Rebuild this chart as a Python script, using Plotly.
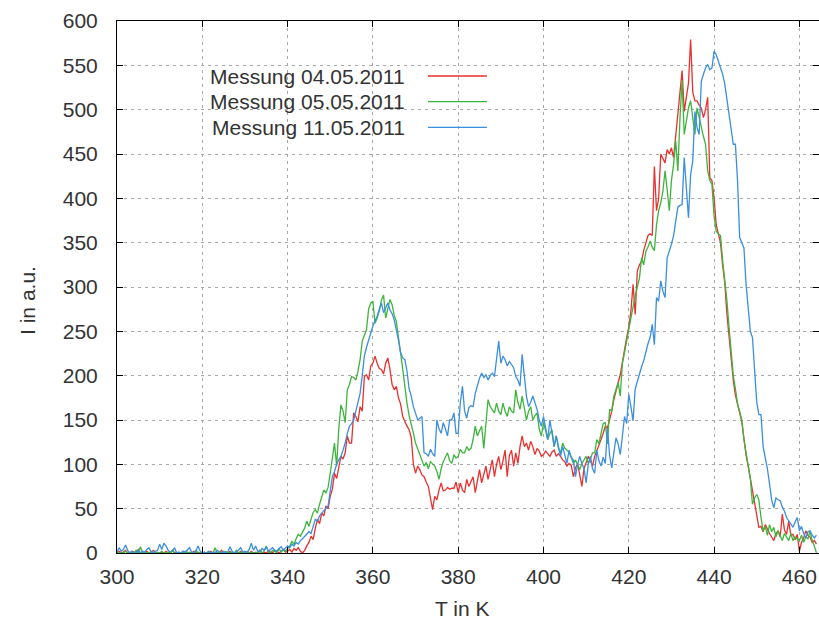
import plotly.graph_objects as go

# Temperature axis: samples every 0.5 K from 300 K to 464 K
T_START = 300.0
T_STEP = 0.5

# Intensity (a.u.) measured on 04.05.2011
messung_0405 = [
    0, 2, 0, 1, 3, 0, 0, 2, 1, 0, 4, 0, 1, 0, 2, 0, 0, 3, 1, 0,                      # 300
    0, 1, 0, 2, 0, 0, 3, 0, 1, 0, 0, 2, 0, 1, 0, 0, 2, 0, 1, 0,                      # 310
    0, 1, 0, 0, 2, 0, 1, 0, 0, 3, 0, 1, 0, 2, 0, 0, 1, 0, 2, 0,                      # 320
    1, 0, 0, 2, 0, 1, 0, 3, 0, 1, 0, 2, 1, 0, 3, 1, 0, 2, 4, 1,                      # 330
    2, 4, 1, 5, 3, 6, 2, 0, 3, 8, 12, 19, 15, 28, 38, 33, 45, 42, 53, 50,            # 340
    64, 72, 90, 84, 98, 109, 106, 113, 132, 124, 124, 158, 154, 148, 165, 160, 199, 201, 195, 211,  # 350
    214, 222, 214, 208, 207, 202, 214, 220, 207, 190, 184, 188, 175, 168, 154, 148, 143, 139, 130, 100,  # 360
    90, 98, 94, 88, 86, 80, 75, 62, 49, 64, 60, 71, 79, 70, 71, 74, 72, 73, 73, 80,  # 370
    68, 79, 71, 68, 83, 75, 80, 86, 68, 83, 94, 79, 90, 98, 83, 95, 105, 86, 100, 109,  # 380
    94, 104, 116, 86, 110, 116, 98, 113, 101, 120, 132, 120, 124, 116, 126, 120, 111, 118, 115, 109,  # 390
    111, 115, 112, 109, 114, 116, 109, 112, 109, 105, 103, 98, 101, 99, 86, 96, 101, 88, 75, 95,  # 400
    101, 109, 104, 98, 109, 115, 120, 128, 135, 143, 141, 150, 160, 173, 184, 192, 201, 218, 229, 243,  # 410
    255, 273, 303, 269, 318, 325, 329, 341, 350, 358, 360, 358, 436, 386, 400, 450, 445, 440, 455, 450,  # 420
    457, 446, 470, 495, 525, 544, 498, 514, 530, 579, 520, 510, 510, 505, 502, 491, 500, 514, 423, 420,  # 430
    400, 370, 360, 350, 325, 305, 270, 245, 218, 195, 178, 166, 158, 148, 125, 110, 98, 85, 70, 55,  # 440
    42, 29, 30, 24, 32, 26, 22, 18, 14, 22, 25, 18, 44, 26, 21, 36, 20, 21, 15, 21,  # 450
    2, 12, 17, 25, 20, 18, 12, 14, 10,                                               # 460
]

# Intensity (a.u.) measured on 05.05.2011
messung_0505 = [
    0, 0, 1, 0, 2, 0, 0, 1, 0, 3, 0, 7, 0, 1, 0, 0, 2, 0, 0, 1,
    0, 2, 0, 0, 1, 0, 3, 0, 0, 1, 0, 0, 2, 0, 1, 0, 0, 3, 0, 0,
    1, 0, 0, 2, 0, 0, 6, 0, 1, 0, 0, 2, 0, 1, 0, 0, 3, 0, 1, 0,
    0, 2, 0, 1, 0, 0, 1, 3, 0, 2, 8, 1, 0, 3, 2, 0, 5, 1, 4, 2,
    5, 8, 13, 10, 16, 21, 19, 23, 28, 36, 30, 38, 46, 49, 45, 55, 62, 71, 68, 74,
    90, 110, 124, 98, 140, 167, 160, 147, 184, 190, 199, 198, 195, 205, 218, 239, 245, 252, 275, 282,
    284, 259, 265, 273, 285, 291, 265, 275, 286, 280, 268, 261, 240, 225, 207, 185, 169, 155, 143, 135,
    124, 118, 112, 106, 98, 102, 95, 103, 100, 98, 92, 83, 95, 103, 108, 113, 104, 101, 111, 107,
    109, 117, 113, 113, 120, 116, 118, 128, 143, 132, 138, 143, 118, 145, 173, 165, 162, 158, 169, 160,
    156, 169, 160, 154, 165, 160, 158, 184, 170, 162, 177, 165, 150, 160, 165, 150, 155, 158, 140, 132,
    147, 138, 128, 135, 139, 120, 132, 118, 113, 124, 118, 116, 113, 108, 101, 105, 100, 94, 101, 105,
    109, 101, 106, 113, 113, 128, 123, 135, 146, 147, 123, 162, 160, 177, 186, 192, 177, 214, 226, 241,
    252, 265, 280, 290, 300, 310, 333, 325, 340, 345, 352, 345, 341, 370, 386, 395, 408, 431, 410, 386,
    420, 438, 465, 431, 490, 533, 472, 490, 502, 510, 490, 472, 502, 490, 480, 470, 461, 431, 420, 416,
    380, 363, 360, 358, 330, 310, 285, 255, 230, 200, 185, 168, 160, 150, 128, 112, 100, 84, 55, 62,
    66, 60, 40, 25, 30, 20, 32, 24, 29, 18, 25, 20, 14, 22, 18, 14, 22, 14, 18, 16,
    14, 20, 12, 18, 16, 25, 14, 8, 0,
]

# Intensity (a.u.) measured on 11.05.2011
messung_1105 = [
    1, 6, 2, 4, 9, 3, 0, 2, 0, 1, 3, 0, 2, 1, 4, 6, 1, 0, 2, 3,
    10, 4, 11, 8, 3, 1, 2, 6, 0, 1, 0, 2, 1, 3, 6, 1, 0, 2, 8, 2,
    0, 1, 0, 2, 0, 1, 0, 3, 1, 0, 2, 0, 1, 7, 2, 0, 1, 3, 6, 1,
    2, 0, 4, 11, 3, 8, 2, 1, 5, 3, 7, 2, 4, 6, 3, 2, 5, 7, 3, 6,
    8, 6, 10, 8, 12, 10, 14, 16, 19, 22, 24, 22, 30, 38, 36, 42, 45, 48, 50, 53,
    70, 86, 92, 100, 105, 109, 116, 124, 135, 143, 146, 150, 160, 172, 180, 200, 222, 232, 241, 250,
    256, 262, 267, 275, 282, 271, 276, 282, 274, 270, 263, 252, 240, 226, 220, 218, 205, 185, 177, 165,
    158, 150, 152, 154, 113, 112, 109, 117, 112, 109, 150, 140, 135, 147, 140, 132, 150, 150, 158, 135,
    135, 170, 188, 160, 152, 164, 166, 165, 180, 190, 197, 203, 198, 201, 195, 200, 203, 199, 220, 239,
    214, 222, 218, 211, 216, 213, 209, 199, 195, 188, 224, 200, 177, 165, 170, 177, 170, 162, 150, 143,
    154, 140, 128, 150, 135, 120, 132, 118, 109, 120, 110, 101, 116, 108, 105, 86, 100, 109, 101, 95,
    79, 100, 109, 95, 90, 116, 104, 98, 108, 101, 141, 110, 96, 116, 130, 123, 111, 132, 154, 146,
    179, 165, 149, 185, 194, 201, 210, 217, 228, 236, 243, 258, 235, 288, 284, 307, 295, 288, 333, 340,
    348, 358, 375, 390, 392, 393, 446, 410, 378, 427, 442, 498, 480, 472, 532, 540, 547, 551, 545, 547,
    566, 562, 555, 547, 540, 529, 510, 495, 478, 461, 461, 420, 356, 350, 344, 303, 275, 250, 243, 205,
    170, 156, 156, 120, 108, 95, 78, 60, 51, 62, 60, 59, 52, 47, 40, 36, 32, 29, 35, 40,
    25, 30, 22, 17, 24, 25, 20, 17, 20,
]

series_names = ["Messung 04.05.2011", "Messung 05.05.2011", "Messung 11.05.2011"]
series_values = [messung_0405, messung_0505, messung_1105]
series_colors = ["#e8312f", "#3db53d", "#3b8fe0"]

x_ticks = [300, 320, 340, 360, 380, 400, 420, 440, 460]
y_ticks = [0, 50, 100, 150, 200, 250, 300, 350, 400, 450, 500, 550, 600]

FONT = "Liberation Sans, Arial, sans-serif"
TEXT_COLOR = "#333333"
FONT_SIZE = 21

fig = go.Figure()
for name, vals, col in zip(series_names, series_values, series_colors):
    temps = [T_START + i * T_STEP for i in range(len(vals))]
    fig.add_trace(go.Scatter(
        x=temps, y=vals, mode="lines", name=name,
        line=dict(color=col, width=1.3), showlegend=False,
    ))

# Key drawn gnuplot-style: right-aligned text followed by the line sample
key_rows = [0.8966, 0.8483, 0.8002]
for name, col, yk in zip(series_names, series_colors, key_rows):
    fig.add_annotation(
        x=0.413, y=yk, xref="paper", yref="paper", text=name,
        showarrow=False, xanchor="right", yanchor="middle",
        font=dict(family=FONT, size=FONT_SIZE, color=TEXT_COLOR),
    )
    fig.add_shape(
        type="line", xref="paper", yref="paper",
        x0=0.443, x1=0.527, y0=yk, y1=yk,
        line=dict(color=col, width=1.3),
    )

# Axis titles
fig.add_annotation(
    x=0.491, y=-0.1034, xref="paper", yref="paper", text="T in K",
    showarrow=False, xanchor="center", yanchor="middle",
    font=dict(family=FONT, size=FONT_SIZE, color=TEXT_COLOR),
)
fig.add_annotation(
    x=-0.1268, y=0.4756, xref="paper", yref="paper", text="I in a.u.",
    showarrow=False, xanchor="center", yanchor="middle", textangle=-90,
    font=dict(family=FONT, size=FONT_SIZE, color=TEXT_COLOR),
)

axis_common = dict(
    showline=True, linecolor="black", linewidth=1, mirror="ticks",
    ticks="inside", ticklen=6, tickcolor="black", tickwidth=1,
    showgrid=True, gridcolor="#a8a8a8", gridwidth=1, griddash="3px,4px",
    zeroline=False,
    tickfont=dict(family=FONT, size=FONT_SIZE, color=TEXT_COLOR),
)

fig.update_xaxes(range=[300, 464.6], tickvals=x_ticks, ticklabelstandoff=5, **axis_common)
fig.update_yaxes(range=[0, 600], tickvals=y_ticks, ticklabelstandoff=14, **axis_common)

fig.update_layout(
    width=819, height=627,
    margin=dict(l=117, r=0, t=21, b=74, pad=0),
    plot_bgcolor="white", paper_bgcolor="white",
    font=dict(family=FONT, size=FONT_SIZE, color=TEXT_COLOR),
)

fig.write_html("out.html")
